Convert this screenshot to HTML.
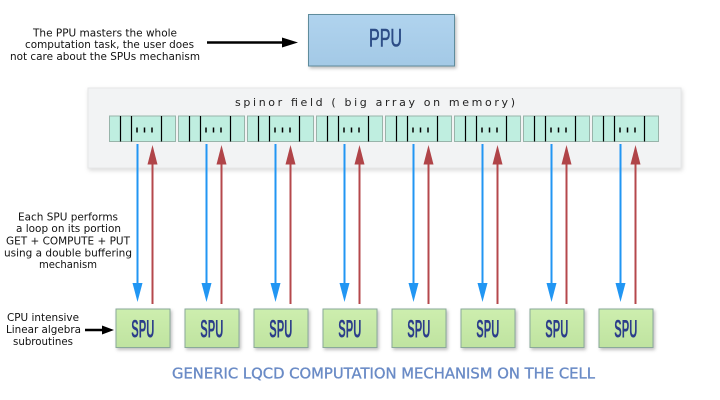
<!DOCTYPE html>
<html><head><meta charset="utf-8"><style>
html,body{margin:0;padding:0;background:#fff;}
svg{display:block;}
</style></head><body>
<svg width="720" height="400" viewBox="0 0 720 400" xmlns="http://www.w3.org/2000/svg">
<defs>
<filter id="sh" x="-10%" y="-10%" width="130%" height="140%">
<feDropShadow dx="1.5" dy="2" stdDeviation="1.5" flood-color="#000" flood-opacity="0.25"/>
</filter>
<filter id="psh" x="-5%" y="-10%" width="110%" height="130%">
<feDropShadow dx="1" dy="2" stdDeviation="2" flood-color="#000" flood-opacity="0.15"/>
</filter>
<linearGradient id="gp" x1="0" y1="0" x2="0" y2="1">
<stop offset="0" stop-color="#b0d3ee"/><stop offset="1" stop-color="#a3c9e6"/>
</linearGradient>
<linearGradient id="gs" x1="0" y1="0" x2="0" y2="1">
<stop offset="0" stop-color="#cdeeae"/><stop offset="1" stop-color="#bfe3a0"/>
</linearGradient>
</defs>

<!-- top-left text -->
<g font-family="'DejaVu Sans','Liberation Sans',sans-serif" font-size="11" fill="#111">
<text x="33" y="36.5" textLength="144" lengthAdjust="spacingAndGlyphs">The PPU masters the whole</text>
<text x="25" y="48" textLength="169" lengthAdjust="spacingAndGlyphs">computation task, the user does</text>
<text x="10" y="60" textLength="190" lengthAdjust="spacingAndGlyphs">not care about the SPUs mechanism</text>
</g>
<line x1="207" y1="42.5" x2="284" y2="42.5" stroke="#000" stroke-width="2.5"/>
<polygon points="282,37.5 298,42.5 282,47.5" fill="#000"/>

<!-- PPU -->
<rect x="308.5" y="14.5" width="146" height="51.5" fill="url(#gp)" stroke="#5e8c9c" stroke-width="1" filter="url(#sh)"/>
<text x="369" y="46.7" font-family="'Liberation Sans',sans-serif" font-size="25" fill="#2c4c86" stroke="#2c4c86" stroke-width="0.6" textLength="33" lengthAdjust="spacingAndGlyphs">PPU</text>

<!-- panel -->
<rect x="88" y="88" width="593" height="80" fill="#f2f3f4" stroke="#e6e7e8" stroke-width="1" filter="url(#psh)"/>
<text x="235" y="106" font-family="'DejaVu Sans','Liberation Sans',sans-serif" font-size="11" fill="#222" textLength="280" lengthAdjust="spacing">spinor field ( big array on memory)</text>

<g id="cells">
<g transform="translate(109,0)">
<rect x="0.5" y="116" width="66" height="25.5" fill="#bfeee0" stroke="#98b4aa" stroke-width="1"/>
<line x1="11.5" y1="116" x2="11.5" y2="141.5" stroke="#000" stroke-width="1.2"/>
<line x1="22.5" y1="116" x2="22.5" y2="141.5" stroke="#000" stroke-width="1.2"/>
<line x1="52.5" y1="116" x2="52.5" y2="141.5" stroke="#000" stroke-width="1.2"/>
<line x1="28" y1="127.5" x2="28" y2="132.5" stroke="#000" stroke-width="1.5"/>
<line x1="35.5" y1="127.5" x2="35.5" y2="132.5" stroke="#000" stroke-width="1.5"/>
<line x1="43" y1="127.5" x2="43" y2="132.5" stroke="#000" stroke-width="1.5"/>
</g>
</g>
<use href="#cells" x="69"/>
<use href="#cells" x="138"/>
<use href="#cells" x="207"/>
<use href="#cells" x="276"/>
<use href="#cells" x="345"/>
<use href="#cells" x="414"/>
<use href="#cells" x="483"/>

<!-- arrows -->
<g id="arr">
<line x1="137.5" y1="144" x2="137.5" y2="290" stroke="#2196f3" stroke-width="2"/>
<polygon points="132.5,283 142.5,283 137.5,302" fill="#2196f3"/>
<line x1="152.5" y1="160" x2="152.5" y2="304" stroke="#b5484c" stroke-width="2"/>
<polygon points="147.5,164.5 157.5,164.5 152.5,145" fill="#b04448"/>
</g>
<use href="#arr" x="69"/>
<use href="#arr" x="138"/>
<use href="#arr" x="207"/>
<use href="#arr" x="276"/>
<use href="#arr" x="345"/>
<use href="#arr" x="414"/>
<use href="#arr" x="483"/>

<!-- SPUs -->
<g id="spu">
<rect x="116" y="309" width="54" height="38.5" fill="url(#gs)" stroke="#8aa99a" stroke-width="1" filter="url(#sh)"/>
<text x="131.3" y="337.7" font-family="'Liberation Sans',sans-serif" font-size="25" font-weight="bold" fill="#2b3d8a" textLength="23" lengthAdjust="spacingAndGlyphs">SPU</text>
</g>
<use href="#spu" x="69"/>
<use href="#spu" x="138"/>
<use href="#spu" x="207"/>
<use href="#spu" x="276"/>
<use href="#spu" x="345"/>
<use href="#spu" x="414"/>
<use href="#spu" x="483"/>

<!-- mid-left text -->
<g font-family="'DejaVu Sans','Liberation Sans',sans-serif" font-size="11" fill="#111">
<text x="18" y="220.5" textLength="100" lengthAdjust="spacingAndGlyphs">Each SPU performs</text>
<text x="16" y="232" textLength="105" lengthAdjust="spacingAndGlyphs">a loop on its portion</text>
<text x="6" y="244.5" textLength="124" lengthAdjust="spacingAndGlyphs">GET + COMPUTE + PUT</text>
<text x="4" y="256.5" textLength="128" lengthAdjust="spacingAndGlyphs">using a double buffering</text>
<text x="39" y="268" textLength="58" lengthAdjust="spacingAndGlyphs">mechanism</text>
<text x="7" y="321" textLength="72" lengthAdjust="spacingAndGlyphs">CPU intensive</text>
<text x="6" y="333" textLength="75" lengthAdjust="spacingAndGlyphs">Linear algebra</text>
<text x="13" y="345" textLength="60" lengthAdjust="spacingAndGlyphs">subroutines</text>
</g>
<line x1="85" y1="330" x2="104" y2="330" stroke="#000" stroke-width="2.5"/>
<polygon points="102,325.5 114,330 102,334.5" fill="#000"/>

<!-- title -->
<text x="172" y="378.3" font-family="'DejaVu Sans','Liberation Sans',sans-serif" font-size="15" fill="#6a8bc6" stroke="#6a8bc6" stroke-width="0.35" textLength="423" lengthAdjust="spacingAndGlyphs">GENERIC LQCD COMPUTATION MECHANISM ON THE CELL</text>
</svg>
</body></html>
